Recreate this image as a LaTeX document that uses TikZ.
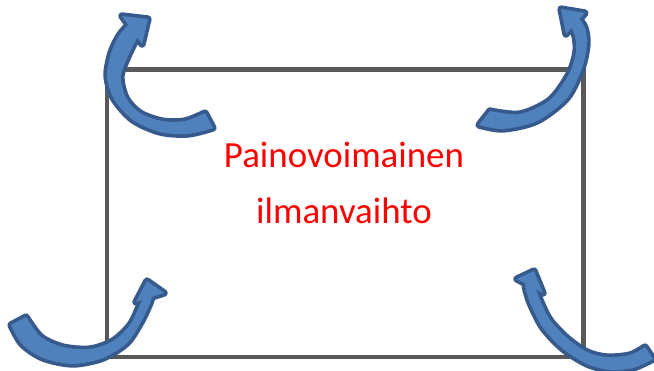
\documentclass[tikz,border=0pt]{standalone}
\usepackage{fontspec}
\setmainfont{Carlito}
\usepackage{xcolor}
\usetikzlibrary{positioning}
\definecolor{arrowblue}{HTML}{4F81BD}
\definecolor{arrowedge}{HTML}{375A8C}
\definecolor{boxgray}{HTML}{595959}

% curved block arrow: outer edge, inner edge, head
\newcommand{\bentarrow}[3]{%
\path[edge] plot[smooth] coordinates {#1} -- plot[smooth] coordinates {#2} -- cycle;
\path[edge] #3 -- cycle;
\path[body] plot[smooth] coordinates {#1} -- plot[smooth] coordinates {#2} -- cycle;
\path[body] #3 -- cycle;
}

\begin{document}
\begin{tikzpicture}[x=0.02cm, y=-0.02cm]
\tikzstyle{box}=[draw=boxgray, line width=2.8pt]
\tikzstyle{lbl}=[text=red, inner sep=0pt, anchor=base, font=\fontsize{21}{25}\selectfont]
\tikzstyle{edge}=[draw=arrowedge, line width=4.2pt, line join=round]
\tikzstyle{body}=[fill=arrowblue]

\useasboundingbox (0,0) rectangle (654,370);

\coordinate (NW) at (107,69.5);
\coordinate (SE) at (583.5,357);
\draw[box] (NW) rectangle (SE);

\node[lbl] (line1) at (344,167) {Painovoimainen};
\node[lbl] (line2) at (344,223) {ilmanvaihto};

% top left
\bentarrow{(213,128) (188,134) (160,132) (133,120) (114,99) (107,76) (111,53) (119,36) (128,25)}
  {(138,36) (129,54) (121,76) (126,98) (140,113) (162,121) (185,121) (205,113)}
  {(122,16) -- (148,19) -- (142,44)}
% top right
\bentarrow{(479,125) (503,129) (537,121) (567,98) (582,68) (587,44) (585,28) (578,17)}
  {(570,25) (575,36) (576,52) (569,74) (550,100) (520,114) (490,111)}
  {(561,9) -- (585,13) -- (566,34)}
% bottom left
\bentarrow{(11,325) (22,344) (43,358) (73,364) (103,358) (127,343) (141,322) (150,303) (153,292)}
  {(145,294) (139,307) (130,325) (113,341) (90,349) (63,347) (41,337) (26,317)}
  {(147,281) -- (164,293) -- (136,302)}
% bottom right
\bentarrow{(653,359) (633,368) (610,370) (587,364) (563,349) (543,328) (531,305) (526,290) (525,282)}
  {(535,286) (540,300) (550,320) (567,338) (587,352) (607,357) (630,355) (645,347)}
  {(534,271) -- (543,293) -- (517,279)}
\end{tikzpicture}
\end{document}
